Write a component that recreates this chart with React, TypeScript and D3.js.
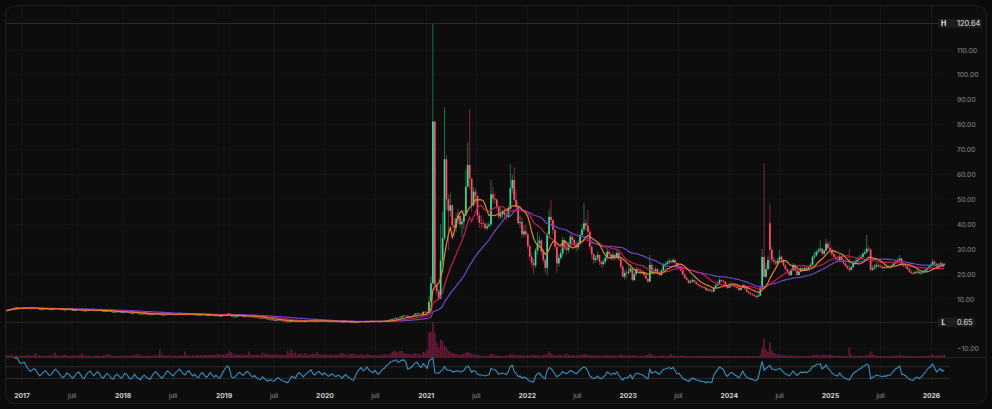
import React from "react";
import * as d3 from "d3";

// velas semanais (segunda-feira), a primeira em 07/11/2016
const primeiraSemana = "2016-11-07";

const fechamentos2016 = [5.4, 5.7, 6.0, 6.2, 6.5, 6.7, 6.6, 6.4];
const fechamentos2017 = [
    6.5, 6.7, 6.5, 6.3, 6.1, 6.2, 6.4, 6.3, 6.0, 5.8, 5.9, 6.1, 6.2,
    6.0, 5.8, 5.9, 6.1, 6.3, 6.2, 6.0, 5.8, 5.6, 5.7, 5.9, 5.8, 5.6,
    5.4, 5.5, 5.7, 5.8, 5.6, 5.3, 5.2, 5.4, 5.6, 5.7, 5.5, 5.3, 5.5,
    5.6, 5.4, 5.1, 5.0, 5.2, 5.3, 5.1, 4.8, 4.7, 4.9, 5.0, 4.8, 4.6,
];
const fechamentos2018 = [
    4.7, 4.9, 4.8, 4.5, 4.3, 4.4, 4.6, 4.3, 4.1, 3.9, 4.1, 4.2, 4.0,
    3.8, 3.7, 3.9, 4.1, 4.2, 4.0, 3.8, 3.6, 3.7, 3.9, 4.1, 4.0, 3.8,
    3.7, 3.9, 4.0, 4.2, 4.1, 3.9, 3.8, 4.0, 4.1, 3.9, 3.7, 3.8, 3.6,
    3.5, 3.7, 3.8, 3.6, 3.4, 3.5, 3.7, 3.5, 3.3, 3.4, 3.2, 3.1, 3.3,
];
const fechamentos2019 = [
    3.6, 3.9, 4.2, 4.0, 3.0, 2.8, 2.9, 3.2, 3.4, 3.2, 3.0, 3.2, 3.4,
    3.3, 3.0, 2.8, 2.9, 2.6, 2.4, 2.3, 2.5, 2.2, 1.9, 1.7, 1.8, 1.6,
    1.5, 1.6, 1.7, 1.5, 1.3, 1.2, 1.0, 0.9, 1.0, 1.2, 1.1, 1.0, 1.2,
    1.3, 1.2, 1.0, 1.1, 1.2, 1.3, 1.4, 1.2, 1.1, 1.2, 1.3, 1.2, 1.1,
];
const fechamentos2020 = [
    1.2, 1.1, 1.0, 1.05, 1.1, 1.0, 0.95, 1.0, 0.95, 0.85, 0.9, 0.95, 0.85,
    0.8, 0.7, 0.65, 0.75, 0.9, 1.0, 1.1, 1.0, 1.05, 1.2, 1.1, 1.05, 1.0,
    1.1, 1.0, 0.95, 1.05, 1.15, 1.2, 1.35, 1.5, 1.8, 1.9, 2.2, 2.5, 2.4,
    2.6, 3.2, 3.4, 3.3, 2.8, 2.9, 3.1, 3.6, 4.2, 4.3, 4.0, 3.9, 4.9, 4.7,
];
const fechamentos2021 = [
    4.4, 8.9, 16.3, 81.3, 15.9, 13.1, 10.2, 25.4, 34.4, 66.1, 50.1, 45.4, 47.7,
    39.6, 38.7, 42.2, 43.4, 40.0, 41.1, 44.2, 55.1, 63.8, 58.4, 47.7, 53.1, 51.4,
    43.5, 40.6, 40.5, 40.1, 38.4, 39.2, 39.9, 52.1, 50.3, 49.9, 47.2, 43.1, 44.0,
    44.8, 43.7, 42.9, 46.2, 54.5, 57.8, 49.8, 47.0, 40.5, 40.9, 36.0, 37.2, 36.0,
];
const maximas2021 = [
    5.2, 11.4, 19.2, 120.64, 81.3, 15.6, 13.9, 40.0, 45.0, 87.0, 68.0, 52.0, 52.6,
    47.0, 42.8, 44.5, 46.0, 44.0, 42.5, 45.5, 62.0, 73.0, 86.2, 58.4, 55.0, 54.5,
    51.5, 45.0, 43.5, 42.0, 41.0, 40.5, 41.0, 58.0, 55.0, 52.5, 50.5, 47.5, 46.5,
    46.0, 46.0, 45.5, 47.5, 64.0, 60.0, 63.0, 54.0, 49.0, 43.5, 43.0, 39.5, 40.0,
];
const minimas2021 = [
    4.3, 4.3, 8.8, 15.3, 13.3, 11.5, 9.9, 9.9, 23.5, 33.5, 46.0, 29.6, 43.0,
    38.5, 35.0, 37.0, 40.0, 38.5, 35.0, 38.0, 43.5, 55.0, 54.0, 45.0, 47.0, 48.5,
    42.0, 38.5, 38.0, 38.5, 37.5, 37.5, 38.5, 39.5, 48.0, 48.5, 45.5, 42.0, 42.0,
    42.5, 42.5, 41.5, 42.5, 46.0, 52.5, 49.0, 45.5, 40.0, 38.5, 34.5, 35.0, 35.0,
];
const fechamentos2022 = [
    31.2, 27.0, 24.5, 23.5, 29.5, 32.5, 33.5, 29.0, 25.7, 22.5, 36.0, 43.0, 41.7,
    37.7, 31.0, 24.3, 26.5, 28.4, 33.7, 31.0, 29.7, 32.0, 35.0, 33.7, 32.0, 30.7,
    32.5, 35.7, 38.0, 40.4, 39.5, 37.0, 31.0, 28.0, 25.7, 26.5, 27.7, 25.0, 24.0,
    25.0, 26.5, 29.0, 28.0, 26.5, 27.7, 26.8, 28.5, 26.0, 23.0, 19.0, 20.5, 20.4,
];
const maximas2022 = [
    36.5, 32.0, 28.5, 26.0, 30.5, 37.0, 35.5, 34.0, 30.0, 26.5, 37.0, 46.0, 49.8,
    42.0, 38.0, 31.5, 28.0, 30.0, 35.0, 34.5, 32.0, 33.0, 36.0, 36.5, 34.5, 33.0,
    33.5, 36.5, 40.0, 48.5, 42.0, 45.8, 38.0, 31.5, 28.5, 27.5, 29.0, 28.0, 25.5,
    26.0, 27.5, 30.5, 30.0, 28.5, 29.0, 28.5, 29.5, 29.0, 26.5, 23.5, 21.5, 22.0,
];
const minimas2022 = [
    30.0, 25.5, 22.5, 19.8, 22.5, 28.0, 30.5, 27.5, 24.5, 20.5, 19.5, 34.0, 39.0,
    36.0, 30.0, 20.4, 23.0, 25.5, 27.0, 29.5, 28.0, 28.5, 31.0, 32.0, 30.5, 29.0,
    29.5, 31.5, 34.5, 37.0, 37.5, 35.5, 29.5, 26.0, 24.0, 24.5, 25.5, 23.5, 22.5,
    23.0, 24.0, 25.5, 27.0, 25.5, 25.5, 25.5, 26.0, 25.0, 22.0, 18.5, 17.8, 18.0,
];
const fechamentos2023 = [
    21.0, 22.3, 17.6, 20.0, 22.0, 21.5, 21.0, 20.8, 19.6, 18.2, 17.0, 23.7, 20.4,
    21.0, 22.0, 20.5, 19.6, 21.5, 23.7, 24.0, 24.7, 25.3, 24.8, 25.7, 24.5, 22.8,
    23.0, 21.5, 19.8, 18.6, 17.6, 16.5, 17.0, 17.6, 16.8, 16.0, 15.5, 15.0, 14.8,
    14.5, 13.6, 13.8, 13.3, 13.0, 14.5, 15.5, 16.3, 17.6, 17.3, 17.0, 15.5, 14.5,
];
const maximas2023 = [
    23.5, 23.0, 22.5, 21.0, 23.0, 23.0, 22.5, 22.0, 21.5, 20.0, 18.5, 27.7, 25.0,
    22.5, 23.0, 22.5, 21.0, 22.0, 24.5, 25.0, 25.5, 26.5, 26.0, 26.5, 26.0, 25.0,
    24.0, 23.5, 22.0, 20.5, 19.0, 18.0, 17.8, 18.5, 18.0, 17.0, 16.5, 16.0, 15.5,
    15.5, 15.0, 14.5, 14.2, 14.0, 15.0, 16.0, 17.0, 18.5, 18.0, 17.8, 17.2, 15.8,
];
const minimas2023 = [
    19.8, 20.5, 17.0, 17.2, 19.5, 20.5, 20.0, 19.8, 19.0, 17.8, 16.5, 16.8, 20.0,
    19.8, 20.5, 20.0, 19.0, 19.4, 21.0, 22.8, 23.5, 24.0, 24.0, 24.2, 24.0, 22.0,
    22.2, 21.0, 19.5, 18.0, 17.2, 16.0, 16.2, 16.5, 16.4, 15.6, 15.2, 14.6, 14.3,
    14.0, 13.2, 13.2, 12.8, 12.6, 12.8, 14.2, 15.2, 16.0, 16.8, 16.5, 14.8, 14.0,
];
const fechamentos2024 = [
    15.2, 15.8, 15.5, 14.8, 14.5, 13.6, 14.5, 15.6, 14.2, 13.0, 12.3, 12.0, 11.6,
    11.2, 10.9, 11.4, 14.5, 26.9, 18.9, 22.0, 25.7, 29.7, 25.7, 25.0, 24.3, 25.5,
    27.0, 25.7, 23.5, 22.0, 21.0, 19.6, 21.5, 23.7, 21.5, 19.6, 21.0, 22.3, 21.7,
    22.5, 21.7, 22.8, 23.7, 26.9, 27.5, 28.9, 29.5, 30.2, 28.2, 29.5, 32.2, 30.5,
];
const maximas2024 = [
    16.5, 16.8, 16.5, 15.8, 15.2, 14.8, 15.0, 16.2, 15.8, 14.5, 13.5, 12.8, 12.4,
    12.0, 11.8, 12.2, 15.5, 30.0, 64.5, 24.5, 27.5, 48.4, 31.0, 27.0, 26.0, 26.5,
    29.7, 27.5, 26.0, 24.0, 22.5, 21.5, 22.5, 24.5, 24.0, 22.0, 21.8, 23.0, 23.0,
    23.5, 23.0, 23.5, 24.5, 27.5, 29.0, 29.7, 30.5, 33.5, 30.5, 30.0, 34.2, 33.0,
];
const minimas2024 = [
    14.5, 14.8, 14.8, 14.2, 13.9, 13.2, 13.4, 14.3, 13.8, 12.6, 11.9, 11.5, 11.2,
    10.8, 10.0, 10.6, 11.2, 14.2, 18.5, 18.5, 21.5, 22.0, 24.5, 23.8, 23.5, 23.8,
    25.0, 25.0, 23.0, 21.5, 20.5, 19.2, 19.3, 21.2, 21.0, 19.2, 19.5, 20.7, 21.0,
    21.3, 21.2, 21.5, 22.5, 23.5, 26.0, 27.0, 28.2, 28.8, 27.5, 27.8, 29.0, 29.8,
];
const fechamentos2025 = [
    29.5, 28.0, 26.9, 26.0, 25.7, 27.2, 25.5, 24.3, 23.2, 22.3, 21.7, 22.8, 24.3,
    25.0, 25.7, 26.5, 26.9, 28.2, 28.8, 30.2, 29.8, 21.7, 22.3, 23.0, 23.7, 23.2,
    23.0, 22.5, 22.8, 22.6, 23.0, 22.8, 23.5, 24.3, 25.0, 25.4, 26.3, 23.7, 23.5,
    23.0, 22.0, 21.0, 20.5, 20.3, 20.8, 21.0, 20.3, 20.6, 21.0, 21.5, 22.3, 23.0,
];
const maximas2025 = [
    33.5, 31.0, 29.5, 28.0, 27.5, 28.0, 27.8, 26.0, 25.0, 23.8, 30.0, 23.5, 25.0,
    26.0, 26.5, 27.5, 28.0, 29.0, 30.0, 35.7, 31.5, 30.5, 23.5, 24.0, 24.5, 24.5,
    24.0, 23.8, 23.5, 23.8, 23.8, 23.6, 24.2, 25.0, 25.8, 26.5, 27.7, 26.5, 24.5,
    24.0, 23.5, 22.5, 21.5, 21.0, 21.5, 21.8, 21.5, 21.2, 21.6, 22.2, 22.8, 23.6,
];
const minimas2025 = [
    28.8, 27.2, 26.2, 25.2, 25.0, 25.2, 25.0, 23.8, 22.8, 21.8, 20.8, 21.4, 22.4,
    23.9, 24.6, 25.3, 26.0, 26.5, 27.8, 28.2, 29.0, 21.0, 21.3, 21.8, 22.6, 22.5,
    22.3, 22.0, 22.0, 22.0, 22.2, 22.0, 22.5, 23.2, 24.0, 24.5, 25.0, 23.0, 22.8,
    22.4, 21.5, 20.5, 19.8, 19.6, 19.9, 20.4, 19.8, 19.8, 20.0, 20.5, 21.0, 22.0,
];
const fechamentos2026 = [23.6, 25.0, 24.2, 23.0, 23.8, 24.3, 23.7, 24.0];
const maximas2026 = [24.2, 26.0, 25.4, 24.5, 24.4, 25.0, 24.8, 24.6];
const minimas2026 = [22.6, 23.4, 23.6, 22.6, 22.7, 23.5, 23.2, 23.3];

// aberturas que não coincidem com o fechamento anterior
const aberturasComGap: [string, number][] = [["2024-05-27", 40.4]];

const volumes2016 = [25, 20, 30, 22, 18, 20, 15, 18];
const volumes2017 = [
    20, 18, 22, 25, 18, 20, 30, 45, 22, 20, 18, 16, 20,
    18, 22, 20, 25, 50, 22, 18, 20, 24, 30, 20, 18, 16,
    18, 15, 20, 22, 25, 40, 22, 18, 20, 16, 18, 15, 20,
    22, 18, 16, 20, 24, 28, 35, 20, 18, 16, 15, 14, 18,
];
const volumes2018 = [
    20, 18, 22, 16, 18, 24, 28, 30, 40, 22, 20, 18, 20,
    22, 18, 16, 20, 22, 25, 80, 30, 22, 20, 18, 24, 20,
    18, 20, 16, 18, 22, 20, 60, 24, 20, 18, 22, 20, 24,
    22, 26, 20, 24, 28, 22, 30, 26, 24, 28, 35, 30, 26,
];
const volumes2019 = [
    30, 35, 40, 70, 55, 32, 28, 30, 26, 30, 28, 24, 26,
    60, 30, 28, 26, 30, 28, 24, 50, 35, 40, 32, 30, 28,
    30, 35, 28, 26, 30, 24, 26, 70, 45, 80, 40, 50, 32,
    35, 40, 30, 45, 30, 28, 35, 40, 30, 55, 35, 30, 28,
];
const volumes2020 = [
    30, 28, 26, 32, 28, 24, 30, 26, 40, 45, 35, 30, 28,
    38, 35, 40, 30, 28, 26, 32, 30, 28, 35, 30, 26, 24,
    22, 20, 24, 26, 30, 35, 28, 32, 40, 55, 70, 60, 50,
    65, 70, 45, 40, 35, 38, 30, 40, 45, 35, 38, 30, 55, 50,
];
const volumes2021 = [
    80, 250, 260, 350, 250, 150, 100, 180, 170, 120, 100, 70, 60,
    45, 40, 35, 30, 30, 35, 40, 50, 55, 45, 40, 30, 28,
    25, 22, 20, 18, 18, 20, 22, 40, 30, 25, 22, 20, 18,
    18, 16, 18, 22, 35, 30, 28, 24, 22, 25, 22, 20, 18,
];
const volumes2022 = [
    25, 22, 28, 30, 24, 26, 22, 20, 25, 28, 30, 60, 40,
    30, 26, 22, 28, 24, 22, 30, 40, 28, 25, 22, 24, 20,
    22, 26, 30, 35, 28, 26, 24, 22, 20, 18, 22, 20, 18,
    20, 22, 24, 20, 18, 22, 20, 18, 22, 30, 26, 22, 20,
];
const volumes2023 = [
    22, 18, 20, 24, 20, 18, 16, 18, 20, 22, 30, 45, 28,
    20, 18, 16, 18, 20, 22, 18, 16, 24, 35, 22, 20, 18,
    16, 18, 20, 16, 15, 14, 16, 15, 14, 16, 18, 16, 15,
    14, 18, 16, 15, 14, 16, 18, 20, 18, 16, 15, 14, 16,
];
const volumes2024 = [
    16, 15, 14, 16, 14, 13, 15, 14, 13, 18, 16, 14, 13,
    14, 15, 13, 30, 100, 190, 80, 60, 150, 70, 45, 35, 30,
    28, 25, 22, 20, 18, 20, 22, 18, 17, 16, 18, 17, 16,
    15, 16, 15, 17, 22, 30, 28, 25, 22, 24, 30, 26, 24,
];
const volumes2025 = [
    30, 24, 20, 18, 16, 18, 16, 15, 14, 16, 100, 30, 20,
    18, 16, 18, 20, 18, 20, 22, 24, 60, 30, 20, 18, 16,
    15, 14, 15, 14, 13, 15, 16, 18, 20, 18, 30, 22, 18,
    16, 15, 16, 15, 14, 15, 16, 15, 14, 15, 16, 18, 20,
];
const volumes2026 = [22, 30, 20, 18, 16, 18, 20, 30];

const rotulosAnos = ["2017", "2018", "2019", "2020", "2021", "2022", "2023", "2024", "2025", "2026"];
const rotuloJulho = "juli";
const ticksPreco = [-10, 10, 20, 30, 40, 50, 60, 70, 80, 90, 100, 110];
const periodosMedias = [40, 20, 10];
const coresMedias = ["#7444cf", "#c81d50", "#e5832e"];
const periodoIfr = 7;

type Vela = { data: Date, o: number, h: number, l: number, c: number, v: number };

const LARGURA = 992;
const ALTURA = 409;
const FIM_PLOT = 950;
const FONTE = "Inter, 'Open Sans', sans-serif";

function montaVelas(): Vela[] {
    const antigos = [
        ...fechamentos2016, ...fechamentos2017, ...fechamentos2018, ...fechamentos2019, ...fechamentos2020,
    ];
    const fech = [
        ...antigos, ...fechamentos2021, ...fechamentos2022, ...fechamentos2023,
        ...fechamentos2024, ...fechamentos2025, ...fechamentos2026,
    ];
    const maximas = [...maximas2021, ...maximas2022, ...maximas2023, ...maximas2024, ...maximas2025, ...maximas2026];
    const minimas = [...minimas2021, ...minimas2022, ...minimas2023, ...minimas2024, ...minimas2025, ...minimas2026];
    const vols = [
        ...volumes2016, ...volumes2017, ...volumes2018, ...volumes2019, ...volumes2020, ...volumes2021,
        ...volumes2022, ...volumes2023, ...volumes2024, ...volumes2025, ...volumes2026,
    ];
    const gaps = new Map(aberturasComGap);
    const fmt = d3.utcFormat("%Y-%m-%d");
    const inicio = d3.utcParse("%Y-%m-%d")(primeiraSemana)!;

    return fech.map((c, i) => {
        const data = d3.utcDay.offset(inicio, i * 7);
        const o = gaps.get(fmt(data)) ?? (i === 0 ? c : fech[i - 1]);
        const j = i - antigos.length;
        const h = Math.max(o, c, j >= 0 ? maximas[j] : -Infinity);
        const l = Math.min(o, c, j >= 0 ? minimas[j] : Infinity);
        return {data, o, h, l, c, v: vols[i] ?? 0};
    });
}

function mediaMovel(valores: number[], n: number): number[] {
    return valores.map((_, i) => d3.mean(valores.slice(Math.max(0, i - n + 1), i + 1)) ?? NaN);
}

function ifr(valores: number[], n: number): number[] {
    const out: number[] = [NaN];
    let ganho = 0, perda = 0;
    for (let i = 1; i < valores.length; i++) {
        const d = valores[i] - valores[i - 1];
        const k = Math.min(i, n);
        ganho = (ganho * (k - 1) + Math.max(d, 0)) / k;
        perda = (perda * (k - 1) + Math.max(-d, 0)) / k;
        out.push(perda === 0 ? 100 : 100 - 100 / (1 + ganho / perda));
    }
    return out;
}

class GraficoVelas extends React.Component<{}, {}> {
    private readonly ref = React.createRef<SVGSVGElement>();

    componentDidMount() {
        this.renderiza(d3.select(this.ref.current!));
    }

    renderiza(svg: d3.Selection<SVGSVGElement, unknown, null, undefined>) {
        svg.selectAll("*").remove();
        const velas = montaVelas();
        const fech = velas.map(d => d.c);

        const x = d3.scaleUtc()
            .domain([new Date(Date.UTC(2017, 0, 1)), new Date(Date.UTC(2026, 0, 1))])
            .range([22, 931.5]);
        const y = d3.scaleLinear().domain([0, 110]).range([323.9, 50]);
        const yVol = d3.scaleLinear().domain([0, d3.max(velas, d => d.v) ?? 1]).range([357.5, 322.5]);
        const yIfr = d3.scaleLinear().domain([30, 70]).range([378.5, 366.7]);

        const maxH = d3.max(velas, d => d.h) ?? 0;
        const minL = d3.min(velas, d => d.l) ?? 0;

        svg.append("rect")
            .attr("x", 5.5).attr("y", 5.5)
            .attr("width", 981).attr("height", 398)
            .attr("rx", 10)
            .attr("fill", "#0d0d0d")
            .attr("stroke", "#1f1f1f");

        // grade
        const datasTicks = rotulosAnos.flatMap(a => [
            {data: new Date(Date.UTC(+a, 0, 1)), ano: true, texto: a},
            {data: new Date(Date.UTC(+a, 6, 1)), ano: false, texto: rotuloJulho},
        ]).filter(t => x(t.data) < FIM_PLOT);

        svg.append("g")
            .selectAll("line")
            .data(datasTicks)
            .join("line")
            .attr("x1", d => x(d.data)).attr("x2", d => x(d.data))
            .attr("y1", 6).attr("y2", 383)
            .attr("stroke", "#171717");

        svg.append("g")
            .selectAll("line")
            .data(ticksPreco)
            .join("line")
            .attr("x1", 6).attr("x2", FIM_PLOT)
            .attr("y1", d => y(d)).attr("y2", d => y(d))
            .attr("stroke", "#141414");

        // linhas de máxima e mínima
        svg.append("g")
            .selectAll("line")
            .data([maxH, minL])
            .join("line")
            .attr("x1", 6).attr("x2", 938)
            .attr("y1", d => y(d)).attr("y2", d => y(d))
            .attr("stroke", "#2a2a2a");

        // separadores do painel inferior
        svg.append("line")
            .attr("x1", 6).attr("x2", 986)
            .attr("y1", 357.5).attr("y2", 357.5)
            .attr("stroke", "#232323");
        svg.append("g")
            .selectAll("line")
            .data([70, 30])
            .join("line")
            .attr("x1", 6).attr("x2", FIM_PLOT)
            .attr("y1", d => yIfr(d)).attr("y2", d => yIfr(d))
            .attr("stroke", "#2a2a2a");

        // volume
        svg.append("g")
            .attr("fill", "#b8255c")
            .attr("fill-opacity", 0.55)
            .selectAll("rect")
            .data(velas)
            .join("rect")
            .attr("x", d => x(d.data) - 0.8)
            .attr("width", 1.6)
            .attr("y", d => yVol(d.v))
            .attr("height", d => 357.5 - yVol(d.v));

        // velas
        const alta = (d: Vela) => d.c >= d.o;
        svg.append("g")
            .selectAll("line")
            .data(velas)
            .join("line")
            .attr("x1", d => x(d.data)).attr("x2", d => x(d.data))
            .attr("y1", d => y(d.h)).attr("y2", d => y(d.l))
            .attr("stroke", d => alta(d) ? "#237a52" : "#8e2b42")
            .attr("stroke-width", 0.9);

        svg.append("g")
            .selectAll("rect")
            .data(velas)
            .join("rect")
            .attr("x", d => x(d.data) - 0.85)
            .attr("width", 1.7)
            .attr("y", d => y(Math.max(d.o, d.c)))
            .attr("height", d => Math.max(0.9, Math.abs(y(d.o) - y(d.c))))
            .attr("fill", d => alta(d) ? "#3ddc97" : "#ff4d6d");

        // médias móveis
        periodosMedias.forEach((n, i) => {
            const media = mediaMovel(fech, n);
            svg.append("path")
                .datum(velas)
                .attr("fill", "none")
                .attr("stroke", coresMedias[i])
                .attr("stroke-width", 1.2)
                .attr("d", d3.line<Vela>()
                    .x(d => x(d.data))
                    .y((_, k) => y(media[k])));
        });

        // IFR
        const valoresIfr = ifr(fech, periodoIfr);
        svg.append("path")
            .datum(velas.map((d, k) => ({data: d.data, r: valoresIfr[k]})).slice(4))
            .attr("fill", "none")
            .attr("stroke", "#3592c6")
            .attr("stroke-width", 1.1)
            .attr("d", d3.line<{ data: Date, r: number }>()
                .x(d => x(d.data))
                .y(d => yIfr(d.r)));

        // eixo de preços
        const fmt = d3.format(".2f");
        svg.append("g")
            .selectAll("text")
            .data(ticksPreco)
            .join("text")
            .attr("x", 957)
            .attr("y", d => y(d))
            .attr("dominant-baseline", "central")
            .style("font-family", FONTE)
            .style("font-size", "6.8px")
            .attr("fill", "#8d8d8d")
            .text(d => fmt(d));

        // marcadores H / L
        [{r: "H", v: maxH, w: 44}, {r: "L", v: minL, w: 37}].forEach(m => {
            const g = svg.append("g").attr("transform", `translate(938, ${y(m.v)})`);
            g.append("rect")
                .attr("x", 0).attr("y", -4.8)
                .attr("width", m.w).attr("height", 9.6)
                .attr("rx", 1.5)
                .attr("fill", "#1c1c1c");
            g.append("text")
                .attr("x", 5.5).attr("y", 0)
                .attr("text-anchor", "middle")
                .attr("dominant-baseline", "central")
                .style("font-family", FONTE)
                .style("font-size", "7px")
                .style("font-weight", 700)
                .attr("fill", "#e8e8e8")
                .text(m.r);
            g.append("text")
                .attr("x", 19).attr("y", 0)
                .attr("dominant-baseline", "central")
                .style("font-family", FONTE)
                .style("font-size", "7.4px")
                .attr("fill", "#e2e2e2")
                .text(fmt(m.v));
        });

        // eixo de tempo
        svg.append("g")
            .selectAll("text")
            .data(datasTicks)
            .join("text")
            .attr("x", d => x(d.data))
            .attr("y", 395.5)
            .attr("text-anchor", "middle")
            .attr("dominant-baseline", "central")
            .style("font-family", FONTE)
            .style("font-size", d => d.ano ? "6.8px" : "6.3px")
            .style("font-weight", d => d.ano ? 700 : 400)
            .attr("fill", d => d.ano ? "#d4d4d4" : "#9a9a9a")
            .text(d => d.texto);
    }

    render() {
        return <svg
            ref={this.ref}
            width={LARGURA}
            height={ALTURA}
            style={{display: "block", backgroundColor: "#0b0b0b"}}
        />;
    }
}

export default function App() {
    React.useEffect(() => {
        document.body.style.margin = "0";
        document.body.style.backgroundColor = "#0b0b0b";
    }, []);
    return <GraficoVelas/>;
}
